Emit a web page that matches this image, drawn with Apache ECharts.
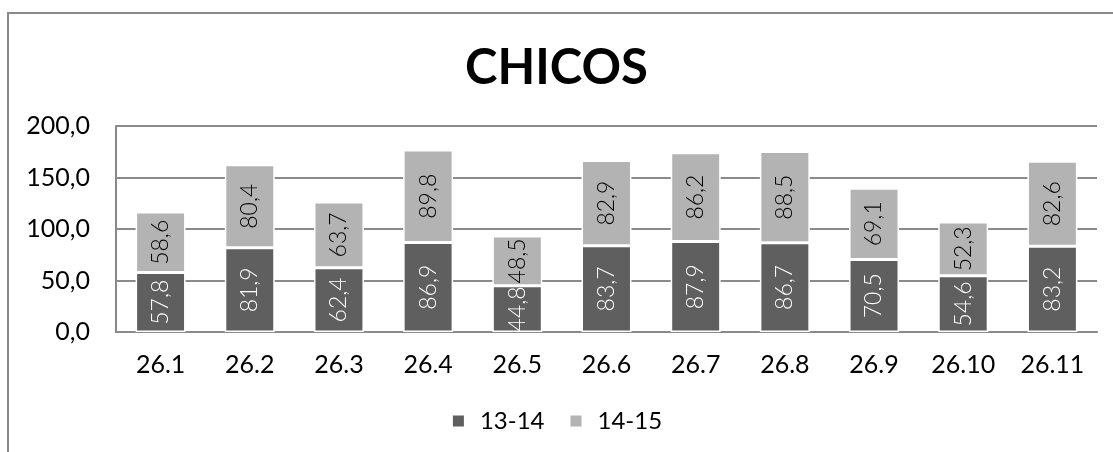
<!DOCTYPE html>
<html>
<head>
<meta charset="utf-8">
<script src="https://cdn.jsdelivr.net/npm/echarts@6/dist/echarts.min.js"></script>
<style>
  html, body { margin: 0; padding: 0; background: #fff; }
  #frame { position: absolute; left: 7px; top: 12px; width: 1200px; height: 500px;
           border-left: 2px solid #8a8a8a; border-top: 2px solid #8a8a8a; }
  #chart { position: absolute; left: 0; top: 0; width: 1113px; height: 452px; }
</style>
</head>
<body>
<div id="frame"></div>
<div id="chart"></div>
<script>
// Sessions and the two age groups
const categories = ['26.1', '26.2', '26.3', '26.4', '26.5', '26.6', '26.7', '26.8', '26.9', '26.10', '26.11'];
const group1314 = [57.8, 81.9, 62.4, 86.9, 44.8, 83.7, 87.9, 86.7, 70.5, 54.6, 83.2];
const group1415 = [58.6, 80.4, 63.7, 89.8, 48.5, 82.9, 86.2, 88.5, 69.1, 52.3, 82.6];
const seriesNames = ['13-14', '14-15'];

const FONT = 'Lato, "DejaVu Sans", sans-serif';
const comma = v => v.toFixed(1).replace('.', ',');

const chart = echarts.init(document.getElementById('chart'), null, { renderer: 'canvas' });

const labelFor = color => ({
  show: true,
  position: 'inside',
  rotate: 90,
  color: color,
  fontFamily: FONT,
  fontWeight: 300,
  fontSize: 23,
  formatter: p => comma(p.value)
});

chart.setOption({
  animation: false,
  backgroundColor: 'transparent',
  title: {
    text: 'CHICOS',
    left: 'center',
    top: 39,
    textStyle: { fontFamily: FONT, fontWeight: 'bold', fontSize: 49, color: '#000' }
  },
  legend: {
    bottom: 14,
    left: 'center',
    itemWidth: 13,
    itemHeight: 13,
    itemGap: 24,
    icon: 'rect',
    textStyle: { fontFamily: FONT, fontSize: 24, color: '#000', padding: [0, 0, 0, 10] },
    data: seriesNames
  },
  grid: { left: 116, right: 16, top: 126, bottom: 120, containLabel: false },
  xAxis: {
    type: 'category',
    data: categories,
    axisLine: { show: true, lineStyle: { color: '#8a8a8a', width: 2 } },
    axisTick: { show: false },
    axisLabel: { fontFamily: FONT, fontSize: 25, color: '#000', margin: 20 }
  },
  yAxis: {
    type: 'value',
    min: 0,
    max: 200,
    interval: 50,
    axisLine: { show: true, lineStyle: { color: '#8a8a8a', width: 2 } },
    axisTick: { show: false },
    splitLine: { lineStyle: { color: '#8a8a8a', width: 2 } },
    axisLabel: { fontFamily: FONT, fontSize: 25, color: '#000', margin: 26, formatter: v => comma(v) }
  },
  series: [
    {
      name: seriesNames[0],
      type: 'bar',
      stack: 'total',
      barWidth: '56%',
      data: group1314,
      itemStyle: { color: '#5f5f5f', borderColor: '#fff', borderWidth: 1.5 },
      label: labelFor('#fff')
    },
    {
      name: seriesNames[1],
      type: 'bar',
      stack: 'total',
      barWidth: '56%',
      data: group1415,
      itemStyle: { color: '#b3b3b3', borderColor: '#fff', borderWidth: 1.5 },
      label: labelFor('#000')
    }
  ]
});
</script>
</body>
</html>
